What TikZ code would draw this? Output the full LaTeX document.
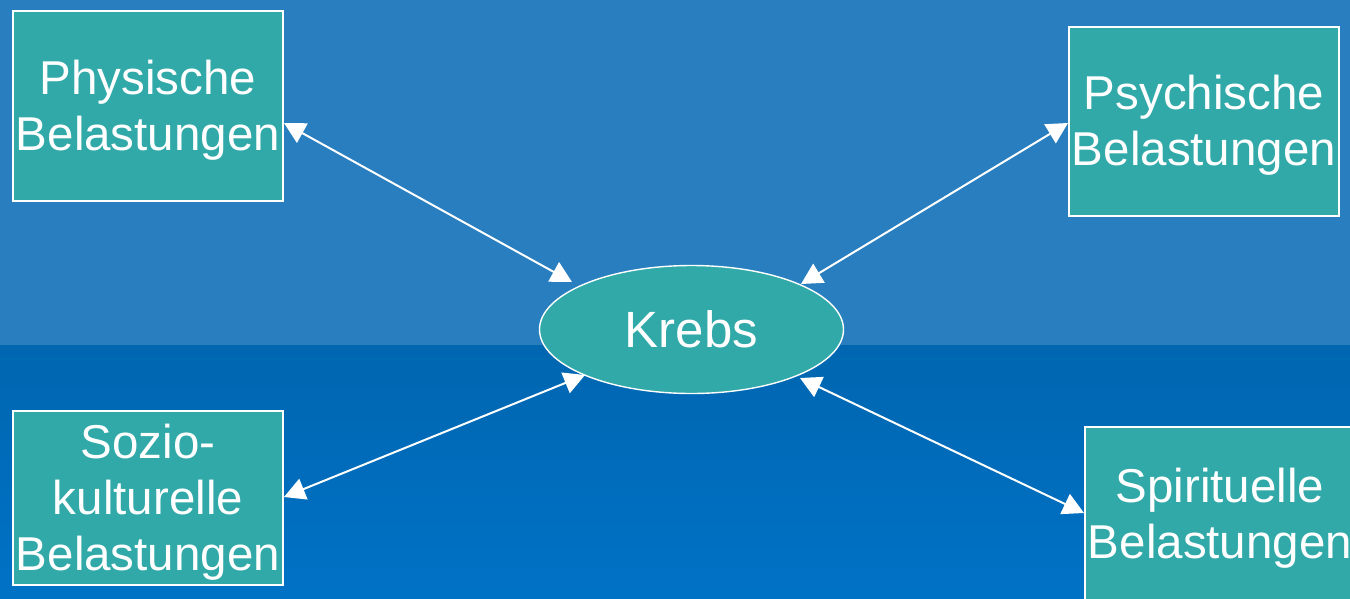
\documentclass[tikz,border=0pt]{standalone}
\usepackage{fontspec}
\setmainfont{Liberation Sans}
\usetikzlibrary{arrows.meta,shapes.geometric,calc}
\definecolor{bgtop}{RGB}{40,126,190}
\definecolor{bgmid}{RGB}{0,102,176}
\definecolor{bgbot}{RGB}{0,114,198}
\definecolor{teal}{RGB}{48,169,168}
\newcommand{\firstline}{\rule{0pt}{42pt}}
\tikzset{
  box/.style={draw=white, line width=1.8pt, fill=teal, text=white, align=center,
    inner sep=0pt, outer sep=0pt, minimum width=270pt,
    font=\fontsize{47.5}{56}\selectfont},
  hub/.style={ellipse, draw=white, line width=1.4pt, fill=teal, text=white,
    inner sep=0pt, outer sep=0pt, minimum width=304pt, minimum height=128pt,
    font=\fontsize{51}{60}\selectfont},
  conn/.style={draw=white, line width=2pt,
    {Triangle[length=21pt,width=22pt]}-{Triangle[length=21pt,width=22pt]}}
}
\begin{document}
\begin{tikzpicture}[x=1pt,y=-1pt]
\useasboundingbox (0,0) rectangle (1350,598);
\clip (0,0) rectangle (1350,598);
\fill[bgtop] (0,0) rectangle (1350,345);
\shade[top color=bgmid, bottom color=bgbot] (0,345) rectangle (1350,598);

\node[box, minimum height=190pt] (p1) at (148,106) {\firstline Physische\\Belastungen};
\node[box, minimum height=189pt] (p2) at (1204,121.5) {\firstline Psychische\\Belastungen};
\node[box, minimum height=174pt] (p3) at (148,498) {\firstline Sozio-\\kulturelle\\Belastungen};
\node[box, minimum height=174pt] (p4) at (1220,514) {\firstline Spirituelle\\Belastungen};

\node[hub] (k) at (691.5,329.5) {Krebs};

\draw[conn] ($(p1.east)+(1,17)$) -- ($(k.center)+(-119.5,-47.5)$);
\draw[conn] ($(p2.west)+(-1,1.5)$) -- ($(k.center)+(109.5,-45.5)$);
\draw[conn] ($(p3.east)+(1,-1)$) -- ($(k.center)+(-106.5,45.5)$);
\draw[conn] ($(p4.west)+(-1,-1)$) -- ($(k.center)+(108.5,48.5)$);
\end{tikzpicture}
\end{document}
